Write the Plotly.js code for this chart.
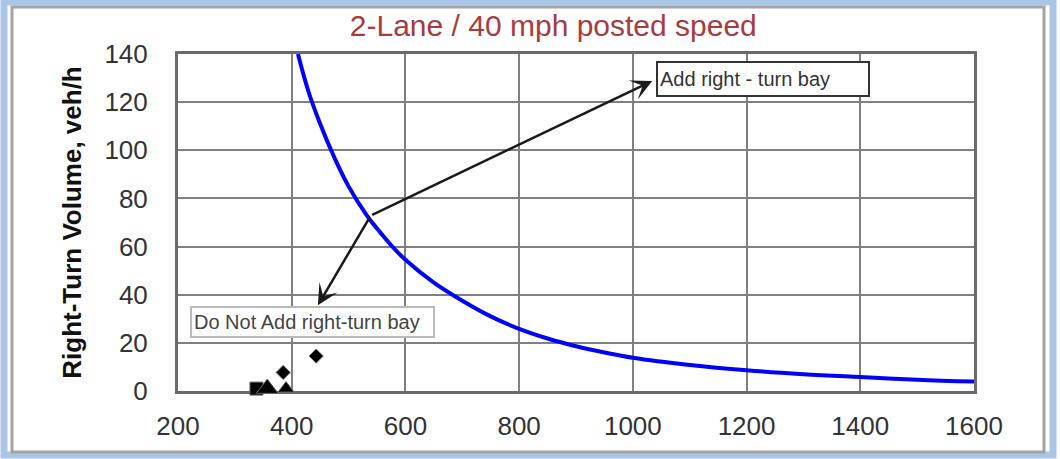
<!DOCTYPE html>
<html><head><meta charset="utf-8">
<script src="https://cdn.plot.ly/plotly-3.0.1.min.js"></script>
<style>html,body{margin:0;padding:0;background:#fff}#chart{width:1060px;height:459px}</style>
</head><body><div id="chart"></div><script>
// Blue threshold curve
const curveX = [411, 430, 450, 475, 500, 532, 550, 575, 600, 650, 700, 750, 800, 850, 900, 950, 1000, 1100, 1200, 1300, 1400, 1500, 1600];
const curveY = [140, 124, 111, 97, 85, 73, 67.5, 60.5, 54.5, 45, 37.5, 31, 25.8, 21.8, 18.6, 16, 13.8, 10.8, 8.6, 7, 5.8, 4.7, 3.9];
// Observed points
const squareX = [338];   const squareY = [1];
const bigTriX = [357];   const bigTriY = [1];
const smallTriX = [390]; const smallTriY = [1];
const diamondX = [385, 443]; const diamondY = [7.7, 14.5];
// Axis ticks
const xTicks = [200, 400, 600, 800, 1000, 1200, 1400, 1600];
const yTicks = [0, 20, 40, 60, 80, 100, 120, 140];
const titleText = '2-Lane / 40 mph posted speed';
const yTitle = 'Right-Turn Volume, veh/h';
const addLabel = 'Add right - turn bay';
const noAddLabel = 'Do Not Add right-turn bay';

const L = 178, R = 974, T = 54, B = 391;
const px = v => (v - L) / (R - L);
const py = v => (B - v) / (B - T);
const FONT = 'Arial, "Liberation Sans", sans-serif';

const traces = [
  {x: curveX, y: curveY, mode: 'lines', line: {color: '#0000ff', width: 4, shape: 'spline', smoothing: 1.1}, hoverinfo: 'skip'},
  {x: squareX, y: squareY, mode: 'markers', marker: {symbol: 'square', size: 13, color: '#000', line: {color: '#666', width: 1}}, cliponaxis: false},
  {x: bigTriX, y: bigTriY, mode: 'markers', marker: {symbol: 'triangle-up', size: 19, color: '#000', line: {color: '#666', width: 1}}, cliponaxis: false},
  {x: smallTriX, y: smallTriY, mode: 'markers', marker: {symbol: 'triangle-up', size: 14, color: '#000', line: {color: '#666', width: 1}}, cliponaxis: false},
  {x: diamondX, y: diamondY, mode: 'markers', marker: {symbol: 'diamond', size: 11, color: '#000', line: {color: '#777', width: 1}}, cliponaxis: false}
];

const layout = {
  width: 1060, height: 459,
  margin: {l: L, r: 1060 - R, t: T, b: 459 - B},
  paper_bgcolor: '#fff', plot_bgcolor: '#fff',
  showlegend: false,
  font: {family: FONT, color: '#333'},
  title: {text: titleText, font: {family: FONT, size: 30, color: '#a63c40'}, x: 0.522, xanchor: 'center', y: 1 - 25/459, yanchor: 'middle'},
  xaxis: {
    range: [200, 1600], tickvals: xTicks, ticktext: xTicks.map(String),
    showgrid: true, gridcolor: '#808080', gridwidth: 2,
    showline: true, linecolor: '#6a6a6a', linewidth: 3, mirror: true, layer: 'below traces',
    zeroline: false, ticks: '', tickfont: {size: 26, color: '#333', family: FONT},
    ticklabelstandoff: 10, fixedrange: true
  },
  yaxis: {
    range: [0, 140], tickvals: yTicks, ticktext: yTicks.map(String),
    showgrid: true, gridcolor: '#808080', gridwidth: 2,
    showline: true, linecolor: '#6a6a6a', linewidth: 3, mirror: true, layer: 'below traces',
    zeroline: false, ticks: '', tickfont: {size: 26, color: '#333', family: FONT},
    ticklabelstandoff: 22, fixedrange: true,
    title: {text: '<b>' + yTitle + '</b>', font: {size: 26, color: '#111', family: FONT}, standoff: 16}
  },
  annotations: [
    {x: 1034, y: 128.8, ax: 539, ay: 72.9, xref: 'x', yref: 'y', axref: 'x', ayref: 'y', text: '', showarrow: true, arrowhead: 3, arrowsize: 1.4, arrowwidth: 2.5, arrowcolor: '#1a1a1a'},
    {x: 446, y: 35.6, ax: 539, ay: 72.9, xref: 'x', yref: 'y', axref: 'x', ayref: 'y', text: '', showarrow: true, arrowhead: 3, arrowsize: 1.4, arrowwidth: 2.5, arrowcolor: '#1a1a1a'},
    {x: px(656), y: py(79), xref: 'paper', yref: 'paper', xanchor: 'left', yanchor: 'middle', text: addLabel, showarrow: false, align: 'left',
     width: 206, height: 28, borderpad: 2, bordercolor: '#333', borderwidth: 2, bgcolor: '#fff', font: {size: 20, color: '#333', family: FONT}},
    {x: px(190), y: py(322), xref: 'paper', yref: 'paper', xanchor: 'left', yanchor: 'middle', text: noAddLabel, showarrow: false, align: 'left',
     width: 237, height: 24, borderpad: 2, bordercolor: '#bbb', borderwidth: 2, bgcolor: '#fff', font: {size: 20, color: '#444', family: FONT}}
  ],
  shapes: [
    {type: 'rect', xref: 'paper', yref: 'paper', x0: px(4), x1: px(1053), y0: py(455), y1: py(2), line: {color: '#a9c6e8', width: 7}, layer: 'below'},
    {type: 'rect', xref: 'paper', yref: 'paper', x0: px(12), x1: px(1044), y0: py(452), y1: py(7), line: {color: '#a3a3a3', width: 3}, layer: 'below'}
  ]
};

Plotly.newPlot('chart', traces, layout, {displayModeBar: false, staticPlot: true});
</script></body></html>
